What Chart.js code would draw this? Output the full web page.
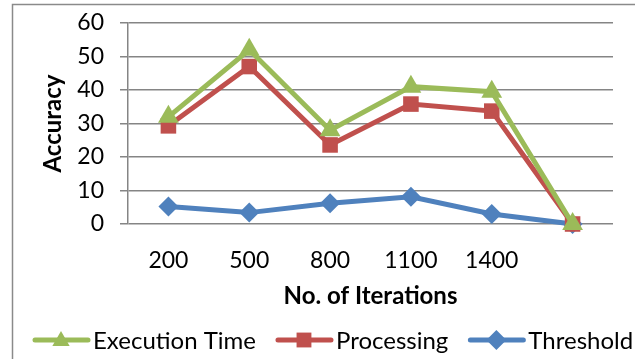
<!DOCTYPE html>
<html><head><meta charset="utf-8">
<script src="https://cdn.jsdelivr.net/npm/chart.js@4/dist/chart.umd.min.js"></script>
<style>html,body{margin:0;padding:0;background:#fff;}#wrap{width:635px;height:359px;position:relative;}</style>
</head><body><div id="wrap"><canvas id="c" width="635" height="359"></canvas></div>
<script>
const categories = ["200", "500", "800", "1100", "1400", ""];
const executionTime = [32, 52, 28, 41, 39.5, 0];
const processing = [29.3, 47, 23.6, 35.8, 33.7, 0];
const threshold = [5.2, 3.4, 6.2, 8.1, 3.0, 0];
const yTicks = [0, 10, 20, 30, 40, 50, 60];
const seriesNames = ["Execution Time", "Processing", "Threshold"];

const FONT = "Lato";
const colors = ["#9BBB59", "#C0504D", "#4F81BD"];
const styles = ["triangle", "rect", "rectRot"];
const radii = [12, 11, 10];
const values = [executionTime, processing, threshold];

function marker(g, style, x, y, r) {
  g.beginPath();
  if (style === 'triangle') {
    g.moveTo(x, y - r); g.lineTo(x + r * 0.866, y + r * 0.5); g.lineTo(x - r * 0.866, y + r * 0.5);
  } else if (style === 'rect') {
    const s = r * Math.SQRT1_2; g.rect(x - s, y - s, 2 * s, 2 * s);
  } else {
    g.moveTo(x, y - r); g.lineTo(x + r, y); g.lineTo(x, y + r); g.lineTo(x - r, y);
  }
  g.closePath(); g.fill();
}

const frame = {id: 'frame', beforeDraw(chart) {
  const ctx = chart.ctx; ctx.save(); ctx.strokeStyle = '#8a8a8a'; ctx.lineWidth = 1.5;
  ctx.strokeRect(12.5, 4.5, 700, 400); ctx.restore();
}};
const customLegend = {id: 'customLegend', afterDraw(chart) {
  const g = chart.ctx; g.save();
  g.font = `24px ${FONT}`; g.textBaseline = 'middle'; g.textAlign = 'left';
  let x = 33; const y = 340;
  chart.data.datasets.forEach((d, i) => {
    g.strokeStyle = d.borderColor; g.fillStyle = d.borderColor; g.lineWidth = 5; g.lineCap = 'round';
    g.beginPath(); g.moveTo(x + 2, y); g.lineTo(x + 55, y); g.stroke();
    marker(g, styles[i], x + 28, y + (styles[i] === 'triangle' ? 1 : 0), styles[i] === 'rect' ? 10.5 : 10);
    g.fillStyle = '#000';
    g.fillText(d.label, x + 60, y + 1);
    x += 60 + g.measureText(d.label).width + 20;
  });
  g.restore();
}};
new Chart(document.getElementById('c'), {
  type: 'line',
  data: {
    labels: categories,
    datasets: seriesNames.map((name, i) => ({
      label: name, data: values[i], borderColor: colors[i], backgroundColor: colors[i],
      borderWidth: 5, pointStyle: styles[i], pointRadius: radii[i], pointHoverRadius: radii[i],
      pointBackgroundColor: colors[i], pointBorderColor: colors[i], pointBorderWidth: 0,
      tension: 0, clip: false
    }))
  },
  options: {
    responsive: false, animation: false,
    layout: {padding: {top: 23, right: 22, left: 0, bottom: 0}},
    plugins: {tooltip: {enabled: false}, legend: {display: false}},
    scales: {
      x: {
        offset: true,
        afterFit(scale) { scale.height = 135; scale.paddingLeft = 0; scale.paddingRight = 0; },
        grid: {display: false, drawTicks: false},
        border: {display: false},
        ticks: {color: '#000', font: {family: FONT, size: 23}, padding: 23, autoSkip: false, maxRotation: 0},
        title: {display: true, text: 'No. of Iterations', color: '#000', font: {family: FONT, size: 24, weight: 'bold'}, padding: {top: 0, bottom: 48}}
      },
      y: {
        min: 0, max: 60,
        afterBuildTicks(scale) { scale.ticks = yTicks.map(v => ({value: v})); },
        afterFit(scale) { scale.width = 128; scale.paddingTop = 0; scale.paddingBottom = 0; },
        grid: {color: '#858585', lineWidth: 1.5, tickLength: 8, drawTicks: true},
        border: {display: true, color: '#858585', width: 1.5},
        ticks: {color: '#000', font: {family: FONT, size: 23}, padding: 16},
        title: {display: true, text: 'Accuracy', color: '#000', font: {family: FONT, size: 24, weight: 'bold'}, padding: {top: 39, bottom: 0}}
      }
    }
  },
  plugins: [frame, customLegend]
});
</script></body></html>
